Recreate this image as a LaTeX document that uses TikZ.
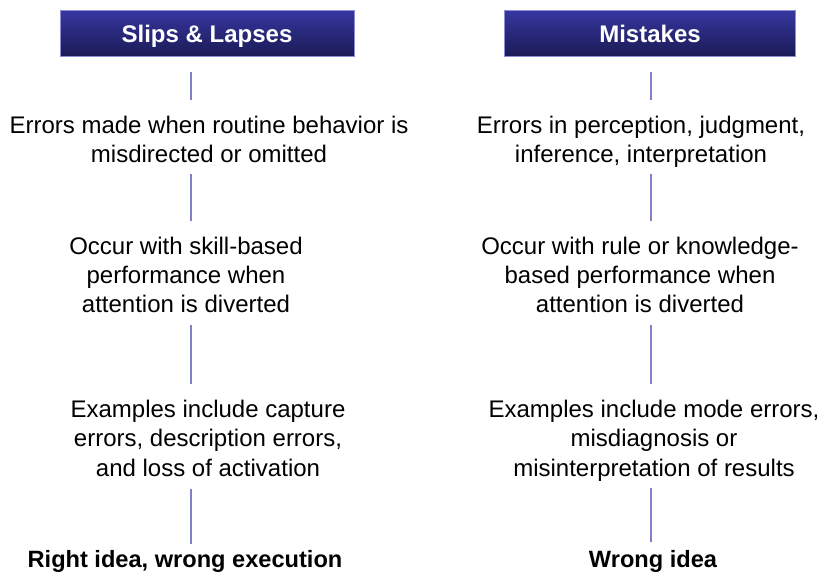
\documentclass[tikz,border=0pt]{standalone}
\usepackage{fontspec}
\setmainfont{Liberation Sans}
\definecolor{headtop}{RGB}{54,54,160}
\definecolor{headbot}{RGB}{26,26,84}
\definecolor{headrim}{RGB}{140,140,216}
\definecolor{linkcol}{RGB}{128,128,200}
\begin{document}
\begin{tikzpicture}[x=0.75pt, y=-0.75pt,
    head/.style={draw=headrim, line width=0.75pt, top color=headtop, bottom color=headbot,
      text=white, font=\fontsize{18}{22}\selectfont\bfseries, minimum height=34.5pt,
      text height=12.9pt, text depth=0pt, inner sep=0pt},
    say/.style={align=center, anchor=base, inner sep=0pt, font=\fontsize{18}{22}\selectfont},
    verdict/.style={anchor=base, inner sep=0pt, font=\fontsize{17.7}{22}\selectfont\bfseries},
    link/.style={draw=linkcol, line width=1.5pt, shorten <=9pt, shorten >=12pt}]
\useasboundingbox (0,0) rectangle (821,573);
\coordinate (lcol) at (191,0);
\coordinate (rcol) at (651,0);
% slips & lapses
\node(slips) [head, minimum width=220.5pt] at (207,34) {Slips \& Lapses};
\node(s1) [say] at (209,163) {Errors made when routine behavior is\\misdirected or omitted};
\node(s2) [say] at (186,313) {Occur with skill-based\\performance when\\attention is diverted};
\node(s3) [say] at (208,476) {Examples include capture\\errors, description errors,\\and loss of activation};
\node(sv) [verdict] at (185,567) {Right idea, wrong execution};
% mistakes
\node(mist) [head, minimum width=218.25pt] at (650,34) {Mistakes};
\node(m1) [say] at (641,163) {Errors in perception, judgment,\\inference, interpretation};
\node(m2) [say] at (640,313) {Occur with rule or knowledge-\\based performance when\\attention is diverted};
\node(m3) [say] at (654,476) {Examples include mode errors,\\misdiagnosis or\\misinterpretation of results};
\node(mv) [verdict] at (653,567) {Wrong idea};
\draw[link, shorten <=11.25pt] (slips.south -| lcol) -- (s1.north -| lcol);
\draw[link, shorten <=8pt] (s1.south -| lcol) -- (s2.north -| lcol);
\draw[link, shorten <=9pt] (s2.south -| lcol) -- (s3.north -| lcol);
\draw[link, shorten >=4.5pt] (s3.south -| lcol) -- (sv.north -| lcol);
\draw[link, shorten <=11.25pt] (mist.south -| rcol) -- (m1.north -| rcol);
\draw[link, shorten <=4.5pt] (m1.south -| rcol) -- (m2.north -| rcol);
\draw[link] (m2.south -| rcol) -- (m3.north -| rcol);
\draw[link, shorten <=5pt, shorten >=6pt] (m3.south -| rcol) -- (mv.north -| rcol);
\end{tikzpicture}
\end{document}
